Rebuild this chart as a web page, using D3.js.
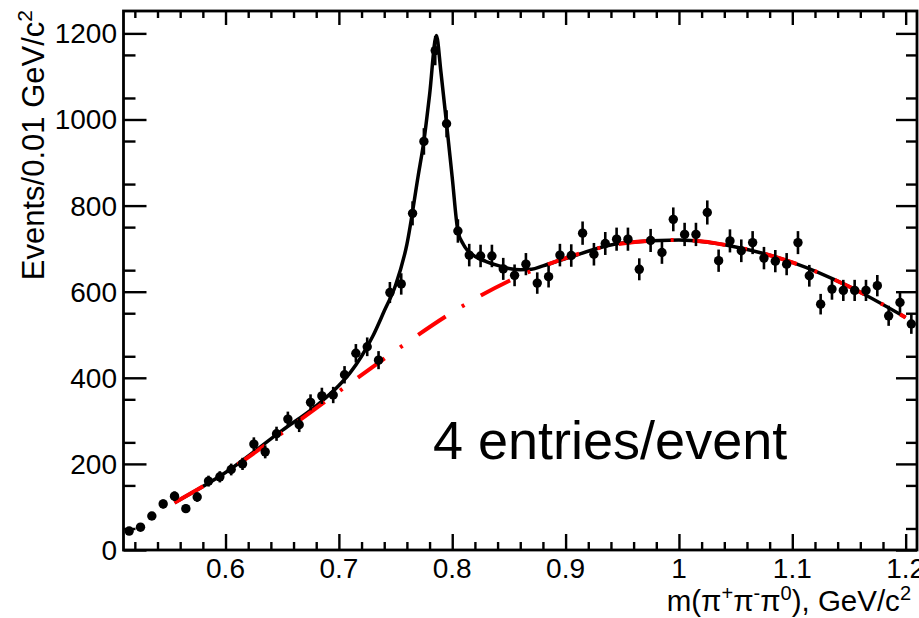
<!DOCTYPE html>
<html>
<head>
<meta charset="utf-8">
<script src="https://cdn.jsdelivr.net/npm/d3@7"></script>
<style>
  body { margin: 0; background: #fff; }
  text { font-family: "Liberation Sans", Arial, Helvetica, sans-serif; fill: #000; }
</style>
</head>
<body>
<script>
// bin centres (GeV/c^2) and counts per 0.01 GeV/c^2
var binCenters = [0.515, 0.525, 0.535, 0.545, 0.555, 0.565, 0.575, 0.585, 0.595, 0.605,
                  0.615, 0.625, 0.635, 0.645, 0.655, 0.665, 0.675, 0.685, 0.695, 0.705,
                  0.715, 0.725, 0.735, 0.745, 0.755, 0.765, 0.775, 0.785, 0.795, 0.805,
                  0.815, 0.825, 0.835, 0.845, 0.855, 0.865, 0.875, 0.885, 0.895, 0.905,
                  0.915, 0.925, 0.935, 0.945, 0.955, 0.965, 0.975, 0.985, 0.995, 1.005,
                  1.015, 1.025, 1.035, 1.045, 1.055, 1.065, 1.075, 1.085, 1.095, 1.105,
                  1.115, 1.125, 1.135, 1.145, 1.155, 1.165, 1.175, 1.185, 1.195, 1.205];
var counts = [44, 53, 79, 107, 125, 96, 123, 160, 170, 187,
              200, 246, 228, 270, 304, 291, 343, 358, 360, 407,
              457, 472, 441, 598, 618, 782, 949, 1160, 990, 741,
              685, 683, 683, 653, 638, 664, 620, 635, 685, 684,
              736, 687, 712, 722, 722, 652, 719, 691, 768, 733,
              733, 784, 672, 718, 695, 714, 678, 671, 664, 714,
              637, 571, 606, 603, 603, 603, 614, 544, 575, 525];

// total fit curve
var fitX = [0.555, 0.6, 0.65, 0.68, 0.7, 0.71, 0.72, 0.73, 0.74, 0.75, 0.76, 0.77, 0.775,
            0.78, 0.786, 0.79, 0.795, 0.8, 0.805, 0.81, 0.82, 0.83, 0.84, 0.85, 0.86,
            0.87, 0.88, 0.9, 0.95, 1.0, 1.05, 1.1, 1.15, 1.2];
var fitY = [110, 180, 278, 335, 382, 412, 450, 497, 555, 615, 710, 870, 950,
            1057, 1195, 1111, 990, 865, 741, 709, 682, 670, 661, 654, 651,
            652, 660, 677, 713, 720, 704, 668, 612, 540];

// background curve
var bgX = [0.555, 0.6, 0.65, 0.7, 0.75, 0.8, 0.85, 0.9, 0.95, 1.0, 1.05, 1.1, 1.15, 1.2];
var bgY = [110, 180, 272, 368, 463, 552, 625, 678, 712, 720, 704, 668, 612, 540];

var xMajor = [0.6, 0.7, 0.8, 0.9, 1.0, 1.1, 1.2];
var xLabels = ["0.6", "0.7", "0.8", "0.9", "1", "1.1", "1.2"];
var yMajor = [0, 200, 400, 600, 800, 1000, 1200];

var width = 919, height = 618;
var padL = 123.5, padR = 917, padT = 11, padB = 550;

var svg = d3.select("body").append("svg")
    .attr("width", width)
    .attr("height", height);

var x = d3.scaleLinear().domain([0.51, 1.21]).range([padL, padR]);
var y = d3.scaleLinear().domain([0, 1252]).range([padB, padT]);

var xMinor = x.ticks(35).filter(function(v) { return xMajor.indexOf(+v.toFixed(2)) < 0; });
var yMinor = d3.range(50, 1250, 100);

// axes
function drawAxis(axis, tx, ty, vals, size) {
    var g = svg.append("g")
        .attr("transform", "translate(" + tx + "," + ty + ")")
        .call(axis.tickValues(vals).tickSize(size).tickFormat(""));
    g.select(".domain").remove();
    g.selectAll("line").attr("stroke", "#000").attr("stroke-width", 2.4);
    return g;
}
drawAxis(d3.axisTop(x), 0, padB, xMajor, 16);
drawAxis(d3.axisTop(x), 0, padB, xMinor, 8);
drawAxis(d3.axisBottom(x), 0, padT, xMajor, 14);
drawAxis(d3.axisBottom(x), 0, padT, xMinor, 7);
drawAxis(d3.axisRight(y), padL, 0, yMajor, 23);
drawAxis(d3.axisRight(y), padL, 0, yMinor, 12);
drawAxis(d3.axisLeft(y), padR, 0, yMajor, 21);
drawAxis(d3.axisLeft(y), padR, 0, yMinor, 11);

svg.append("rect")
    .attr("x", padL).attr("y", padT)
    .attr("width", padR - padL).attr("height", padB - padT)
    .attr("fill", "none").attr("stroke", "#000").attr("stroke-width", 2.8);

// tick labels
svg.selectAll(".xlab").data(xMajor).enter().append("text")
    .attr("class", "xlab")
    .attr("x", function(d) { return x(d); })
    .attr("y", 578)
    .attr("text-anchor", "middle")
    .style("font-size", "28px")
    .text(function(d, i) { return xLabels[i]; });

svg.selectAll(".ylab").data(yMajor).enter().append("text")
    .attr("class", "ylab")
    .attr("x", 117)
    .attr("y", function(d) { return y(d) + 10; })
    .attr("text-anchor", "end")
    .style("font-size", "28px")
    .text(function(d) { return d; });

// axis titles
var yt = svg.append("text")
    .attr("transform", "translate(44,10) rotate(-90)")
    .attr("text-anchor", "end")
    .style("font-size", "31px");
yt.append("tspan").text("Events/0.01 GeV/c");
yt.append("tspan").attr("dy", -12).style("font-size", "21px").text("2");

var xt = svg.append("text")
    .attr("x", 911).attr("y", 611)
    .attr("text-anchor", "end")
    .style("font-size", "29.5px");
xt.append("tspan").text("m(\u03c0");
xt.append("tspan").attr("dy", -11).style("font-size", "20px").text("+");
xt.append("tspan").attr("dy", 11).text("\u03c0");
xt.append("tspan").attr("dy", -11).style("font-size", "20px").text("-");
xt.append("tspan").attr("dy", 11).text("\u03c0");
xt.append("tspan").attr("dy", -11).style("font-size", "20px").text("0");
xt.append("tspan").attr("dy", 11).text("), GeV/c");
xt.append("tspan").attr("dy", -11).style("font-size", "20px").text("2");

// fit curves
var fitLine = d3.line()
    .x(function(d) { return x(d[0]); })
    .y(function(d) { return y(d[1]); })
    .curve(d3.curveMonotoneX);

svg.append("path")
    .attr("d", fitLine(d3.zip(fitX, fitY)))
    .attr("fill", "none")
    .attr("stroke", "#000")
    .attr("stroke-width", 3.5);

svg.append("path")
    .attr("d", fitLine(d3.zip(bgX, bgY)))
    .attr("fill", "none")
    .attr("stroke", "#ff0000")
    .attr("stroke-width", 4)
    .attr("stroke-dasharray", "33,19,3,19");

// data points with error bars
var pts = svg.append("g").selectAll("g.pt")
    .data(d3.zip(binCenters, counts))
    .enter().append("g").attr("class", "pt");

pts.append("line")
    .attr("x1", function(d) { return x(d[0]); })
    .attr("x2", function(d) { return x(d[0]); })
    .attr("y1", function(d) { return y(d[1] + Math.sqrt(d[1])); })
    .attr("y2", function(d) { return y(d[1] - Math.sqrt(d[1])); })
    .attr("stroke", "#000")
    .attr("stroke-width", 2.6);

pts.append("circle")
    .attr("cx", function(d) { return x(d[0]); })
    .attr("cy", function(d) { return y(d[1]); })
    .attr("r", 4.7)
    .attr("fill", "#000");

svg.append("text")
    .attr("x", 433).attr("y", 459)
    .style("font-size", "54px")
    .text("4 entries/event");
</script>
</body>
</html>
